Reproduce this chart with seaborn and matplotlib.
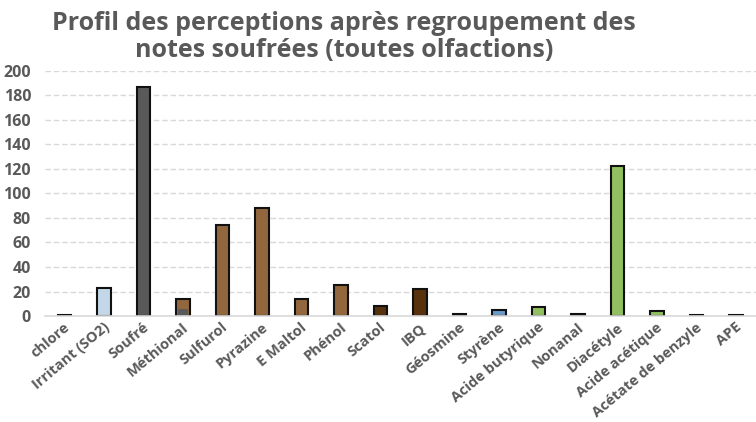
import matplotlib
matplotlib.use("Agg")
import matplotlib.pyplot as plt
import matplotlib.transforms as mtransforms
import seaborn as sns
import pandas as pd

# Data
categories = ["chlore", "Irritant (SO2)", "Soufré", "Méthional", "Sulfurol",
              "Pyrazine", "E Maltol", "Phénol", "Scatol", "IBQ", "Géosmine",
              "Styrène", "Acide butyrique", "Nonanal", "Diacétyle",
              "Acide acétique", "Acétate de benzyle", "APE"]
values = [1, 23, 187, 14, 74, 88, 14, 25, 8, 22, 2, 5, 7, 2, 122, 4, 1, 1]
# grey (sulphur) share at the bottom of the Méthional bar
sulfur_part = [0, 0, 0, 6, 0, 0, 0, 0, 0, 0, 0, 0, 0, 0, 0, 0, 0, 0]
bar_colors = ["#595959", "#BDD7EE", "#595959", "#A0672F", "#A0672F",
              "#A0672F", "#A0672F", "#A0672F", "#643200", "#643200", "#7A4316",
              "#5B9BD5", "#92D050", "#92D050", "#92D050", "#92D050",
              "#595959", "#595959"]
yticks = [0, 20, 40, 60, 80, 100, 120, 140, 160, 180, 200]

df = pd.DataFrame({"odeur": categories, "valeur": values, "soufre": sulfur_part})
palette = dict(zip(categories, bar_colors))

sns.set_theme(style="white")
plt.rcParams["font.family"] = ["Open Sans", "DejaVu Sans"]

fig = plt.figure(figsize=(7.56, 4.22), dpi=100)
ax = fig.add_axes([0.0595, 0.251, 0.94, 0.5815])

sns.barplot(data=df, x="odeur", y="valeur", hue="odeur", palette=palette,
            width=0.34, edgecolor="#111111", linewidth=1.5, legend=False, ax=ax)
sns.barplot(data=df, x="odeur", y="soufre", color="#595959",
            width=0.27, linewidth=0, ax=ax)

ax.set_ylim(0, 200)
ax.set_xlim(-0.5, len(categories) - 0.5)
ax.set_yticks(yticks)
ax.set_yticklabels([str(v) for v in yticks])
ax.set_xlabel("")
ax.set_ylabel("")

ax.yaxis.grid(True, linestyle=(0, (4, 2)), color="#d9d9d9", linewidth=1)
ax.set_axisbelow(True)
for s in ["top", "right", "left"]:
    ax.spines[s].set_visible(False)
ax.spines["bottom"].set_color("#d9d9d9")
ax.spines["bottom"].set_linewidth(1.2)

ax.tick_params(axis="y", length=0, pad=10, labelsize=11.5, labelcolor="#595959")
ax.tick_params(axis="x", length=0, pad=3, labelsize=10.5, labelcolor="#595959")
for lab in ax.get_yticklabels():
    lab.set_fontweight("bold")
offset = mtransforms.ScaledTranslation(8 / 100, 0, fig.dpi_scale_trans)
for lab in ax.get_xticklabels():
    lab.set_fontweight("bold")
    lab.set_rotation(40)
    lab.set_ha("right")
    lab.set_rotation_mode("default")
    lab.set_transform(lab.get_transform() + offset)

fig.text(0.455, 1 - 37 / 422,
         "Profil des perceptions après regroupement des\nnotes soufrées (toutes olfactions)",
         ha="center", va="center", fontsize=18, fontweight="bold",
         color="#595959", linespacing=1.1)

fig.savefig("out.png", dpi=100, facecolor="white")
